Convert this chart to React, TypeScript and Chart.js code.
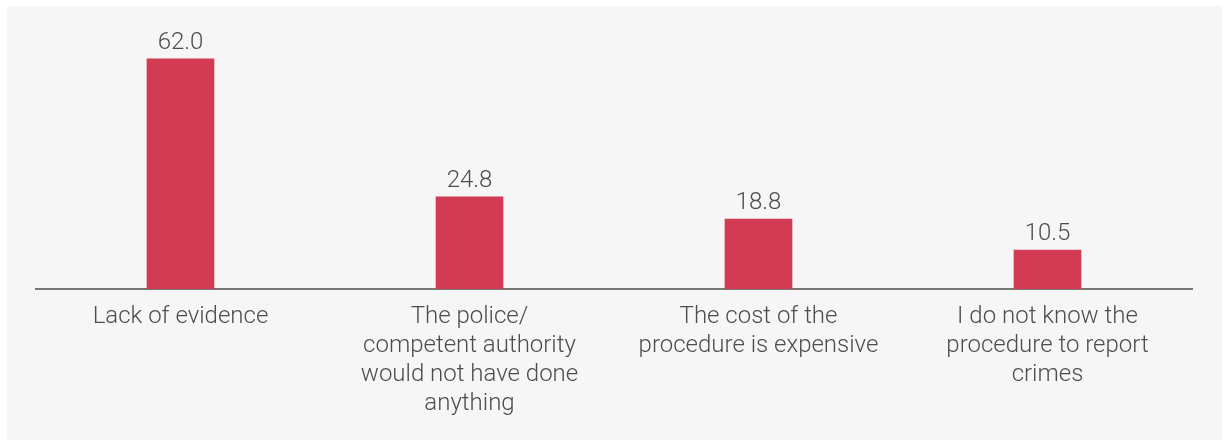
import React, { useEffect, useRef } from "react";
import { Chart, registerables } from "chart.js";

Chart.register(...registerables);

const categories: string[][] = [
  ["Lack of evidence"],
  ["The police/", "competent authority", "would not have done", "anything"],
  ["The cost of the", "procedure is expensive"],
  ["I do not know the", "procedure to report", "crimes"],
];
const values: number[] = [62.0, 24.8, 18.8, 10.5];
const valueLabels: string[] = ["62.0", "24.8", "18.8", "10.5"];

const FONT = "Roboto";
const TEXT = "#4d4d4d";
const BAR = "#d33a53";

const valueLabelPlugin = {
  id: "valueLabels",
  afterDatasetsDraw(chart: any) {
    const ctx = chart.ctx;
    const meta = chart.getDatasetMeta(0);
    ctx.save();
    ctx.font = `300 24px ${FONT}`;
    ctx.fillStyle = TEXT;
    ctx.textAlign = "center";
    ctx.textBaseline = "alphabetic";
    meta.data.forEach((el: any, i: number) => {
      ctx.fillText(valueLabels[i], el.x, el.y - 10);
    });
    ctx.restore();
  },
};

export default function App() {
  const ref = useRef<HTMLCanvasElement | null>(null);
  useEffect(() => {
    if (!ref.current) return;
    const chart = new Chart(ref.current, {
      type: "bar",
      data: {
        labels: categories,
        datasets: [
          {
            data: values,
            backgroundColor: BAR,
            borderWidth: 0,
            barThickness: 67,
            categoryPercentage: 1,
          },
        ],
      },
      options: {
        animation: false,
        responsive: false,
        maintainAspectRatio: false,
        layout: { padding: { left: 29, right: 30, top: 23, bottom: 0 } },
        plugins: {
          legend: { display: false },
          tooltip: { enabled: false },
        },
        scales: {
          x: {
            grid: { display: false, drawTicks: false },
            border: { display: true, color: "#777777", width: 2 },
            ticks: {
              color: TEXT,
              padding: 14,
              autoSkip: false,
              maxRotation: 0,
              font: { family: FONT, size: 24, weight: "300", lineHeight: 1.2 },
            },
            afterFit: (scale: any) => {
              scale.height = 151;
            },
          },
          y: {
            display: false,
            min: 0,
            max: 70,
          },
        },
      },
      plugins: [valueLabelPlugin],
    });
    return () => chart.destroy();
  }, []);

  return (
    <div
      style={{
        position: "fixed",
        left: 0,
        top: 0,
        width: 1229,
        height: 446,
        background: "#ffffff",
      }}
    >
      <div
        style={{
          position: "absolute",
          left: 7,
          top: 6,
          width: 1215,
          height: 434,
          background: "#f6f6f6",
        }}
      >
        <canvas ref={ref} width={1215} height={434} style={{ display: "block" }} />
      </div>
    </div>
  );
}
